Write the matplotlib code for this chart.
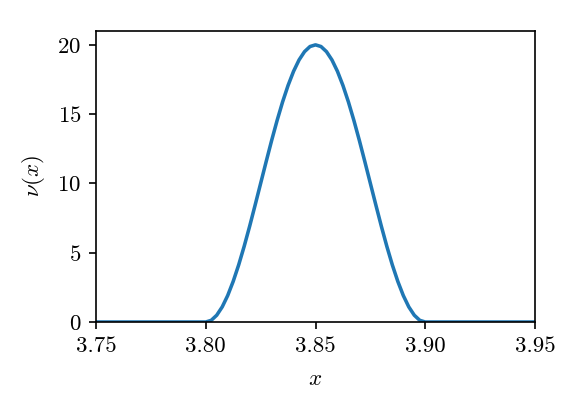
import matplotlib
matplotlib.use("Agg")
import matplotlib.pyplot as plt

plt.rcParams['font.family'] = 'serif'
plt.rcParams['font.serif'] = ['cmr10']
plt.rcParams['mathtext.fontset'] = 'cm'
plt.rcParams['axes.formatter.use_mathtext'] = True
plt.rcParams['font.size'] = 11

x_vals = [3.75, 3.80, 3.8025, 3.805, 3.8075, 3.81, 3.8125, 3.815, 3.8175, 3.82, 3.8225,
          3.825, 3.8275, 3.83, 3.8325, 3.835, 3.8375, 3.84, 3.8425, 3.845, 3.8475,
          3.85, 3.8525, 3.855, 3.8575, 3.86, 3.8625, 3.865, 3.8675, 3.87, 3.8725,
          3.875, 3.8775, 3.88, 3.8825, 3.885, 3.8875, 3.89, 3.8925, 3.895, 3.8975,
          3.90, 3.95]
nu_vals = [0.0, 0.0, 0.12, 0.49, 1.09, 1.91, 2.93, 4.12, 5.46, 6.91, 8.44,
           10.0, 11.56, 13.09, 14.54, 15.88, 17.07, 18.09, 18.91, 19.51, 19.88,
           20.0, 19.88, 19.51, 18.91, 18.09, 17.07, 15.88, 14.54, 13.09, 11.56,
           10.0, 8.44, 6.91, 5.46, 4.12, 2.93, 1.91, 1.09, 0.49, 0.12,
           0.0, 0.0]
x_ticks = [3.75, 3.80, 3.85, 3.90, 3.95]
x_tick_labels = ['3.75', '3.80', '3.85', '3.90', '3.95']
y_ticks = [0, 5, 10, 15, 20]

fig = plt.figure(figsize=(581/150, 415/150), dpi=150)
ax = fig.add_axes([96/581, 1-322/415, (535-96)/581, (322-31)/415])
ax.plot(x_vals, nu_vals, color='#1f77b4', lw=1.7, solid_joinstyle='round')
ax.set_xlim(3.75, 3.95)
ax.set_ylim(0, 21)
ax.set_xticks(x_ticks)
ax.set_xticklabels(x_tick_labels)
ax.set_yticks(y_ticks)
ax.set_xlabel(r'$x$', labelpad=6.5)
ax.set_ylabel(r'$\nu(x)$', labelpad=5)
fig.savefig('out.png', dpi=150)
